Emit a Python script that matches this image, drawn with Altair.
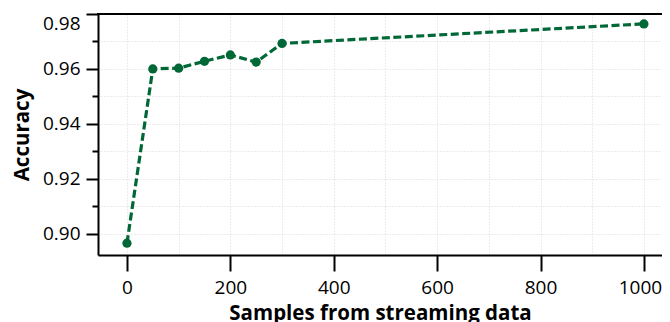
import altair as alt
import pandas as pd

samples = [0, 50, 100, 150, 200, 250, 300, 1000]
accuracy = [0.8966, 0.9600, 0.9603, 0.9628, 0.9651, 0.9625, 0.9693, 0.9764]
x_ticks = [0, 100, 200, 300, 400, 500, 600, 700, 800, 900, 1000]
y_ticks = [0.90, 0.91, 0.92, 0.93, 0.94, 0.95, 0.96, 0.97, 0.98]

df = pd.DataFrame({"samples": samples, "accuracy": accuracy})

GREEN = "#006837"
FONT = "Open Sans"
W, H = 564, 241

x_enc = alt.X(
    "samples:Q",
    scale=alt.Scale(domain=[-56, 1035], nice=False, zero=False),
    axis=alt.Axis(
        values=x_ticks,
        format="d",
        title="Samples from streaming data",
        labelExpr="datum.value % 200 === 0 ? datum.label : ''",
        tickSize={"condition": {"test": "datum.value % 200 === 0", "value": 16}, "value": 0},
        labelOffset={"condition": {"test": "datum.value === 1000", "value": -4}, "value": 0},
        labelPadding=7,
        titleY=48,
        titleBaseline="top",
        labelFlush=False,
    ),
)
y_enc = alt.Y(
    "accuracy:Q",
    scale=alt.Scale(domain=[0.8923, 0.98], nice=False, zero=False),
    axis=alt.Axis(
        values=y_ticks,
        format=".2f",
        title="Accuracy",
        labelExpr="round(datum.value * 100) % 2 === 0 ? datum.label : ''",
        tickSize={"condition": {"test": "round(datum.value * 100) % 2 === 0", "value": 12}, "value": 6},
        labelPadding=6,
        titlePadding=10,
        labelFlush=True,
    ),
)

base = alt.Chart(df)
line = base.mark_line(color=GREEN, strokeWidth=3.2, strokeDash=[8, 3.5]).encode(x=x_enc, y=y_enc)
pts = base.mark_circle(color=GREEN, size=85, opacity=1).encode(x=x_enc, y=y_enc)

top = alt.Chart(pd.DataFrame({"a": [0]})).mark_rule(color="black", strokeWidth=2).encode(
    x=alt.value(-1), x2=alt.value(W + 2), y=alt.value(0)
)

chart = (
    alt.layer(line, pts, top)
    .properties(
        width=W,
        height=H,
        autosize=alt.AutoSizeParams(type="none"),
        padding={"left": 90, "top": 6, "right": 0, "bottom": 67},
    )
    .configure_view(stroke=None)
    .configure_axis(
        grid=True,
        gridColor="#cfcfcf",
        gridWidth=0.8,
        gridDash=[1, 2],
        domainColor="black",
        domainWidth=2,
        tickColor="black",
        tickWidth=2,
        labelFont=FONT,
        labelFontSize=19,
        labelColor="black",
        titleFont=FONT,
        titleFontSize=20.5,
        titleFontWeight="bold",
        titleColor="black",
    )
)

chart.save("out.html", embed_options={"renderer": "svg", "actions": False})
